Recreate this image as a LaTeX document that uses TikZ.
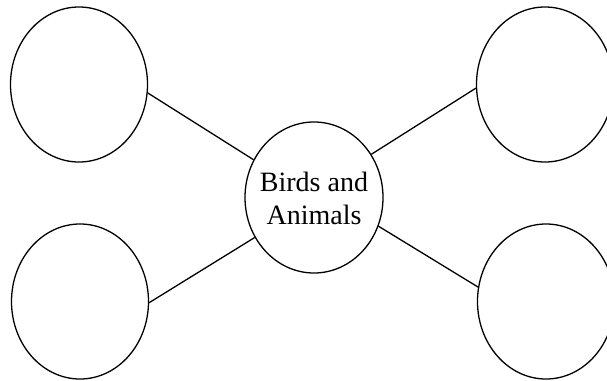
\documentclass[tikz,border=0pt]{standalone}
\usepackage{fontspec}
\setmainfont{Liberation Serif}
\usetikzlibrary{shapes.geometric}
\begin{document}
\begin{tikzpicture}[x=1pt,y=-1pt,
  bubble/.style={draw=black, line width=1.3pt, ellipse, inner sep=0pt,
    minimum width=137pt, minimum height=155pt, fill=white},
  link/.style={draw=black, line width=1.3pt}]
\useasboundingbox[fill=white] (0,0) rectangle (607,380);
\begin{scope}
\clip (0,0) rectangle (607,380);
\node[bubble] (tl) at (79,84.5) {};
\node[bubble] (bl) at (80,301.5) {};
\node[bubble] (tr) at (545,84.5) {};
\node[bubble] (br) at (546,301.5) {};
\node[bubble, minimum width=138pt, minimum height=151pt,
  label={[align=center, font=\fontsize{28}{33}\selectfont, yshift=-1pt]center:Birds and\\Animals}]
  (c) at (314,197.5) {};
\draw[link] (tl.-7.8) -- (c.148.4);
\draw[link] (bl.-1) -- (c.214.5);
\draw[link] (tr.183) -- (c.37.3);
\draw[link] (br.168) -- (c.-24);
\end{scope}
\end{tikzpicture}
\end{document}
